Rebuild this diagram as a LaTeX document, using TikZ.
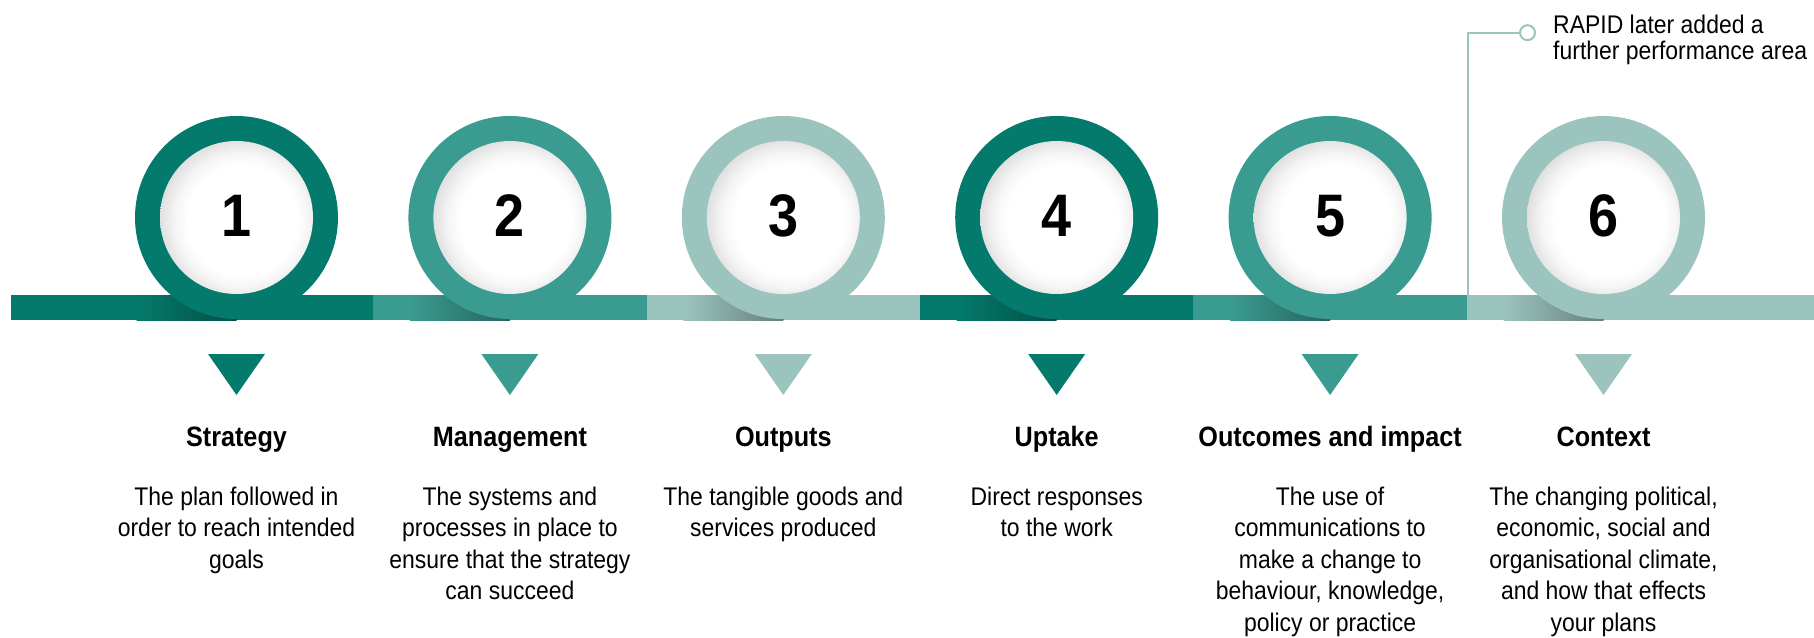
\documentclass[tikz,border=0pt]{standalone}
\usepackage{fontspec}
\setmainfont{Liberation Sans}[FakeStretch=0.9]

\definecolor{tealdark}{HTML}{047A6C}
\definecolor{tealmid}{HTML}{3A9B91}
\definecolor{teallight}{HTML}{9CC4BF}

% soft inner shadow for the white discs, heavier on the left
% (the disc rim lies 25bp from the shading centre)
\pgfdeclareradialshading{discglow}{\pgfpoint{3bp}{-1.5bp}}{%
  color(0bp)=(white); color(18bp)=(white); color(22bp)=(black!4);
  color(28bp)=(black!15); color(50bp)=(black!15)}

\newcommand\digitfont{\fontsize{60}{60}\selectfont\bfseries}
\newcommand\titlefont{\fontsize{28}{32}\selectfont\bfseries}
\newcommand\bodyfont{\fontsize{25.5}{31.5}\selectfont}
\newcommand\notefont{\fontsize{25.5}{26}\selectfont}

\tikzset{
  ringdisc/.style={circle, inner sep=0pt, minimum size=203pt},
  whitedisc/.style={circle, inner sep=0pt, minimum size=153pt, shading=discglow, font=\digitfont},
  areatitle/.style={anchor=base, inner sep=0pt, font=\titlefont},
  areabody/.style={anchor=north, inner sep=0pt, align=center, font=\bodyfont},
}

\begin{document}
\begin{tikzpicture}[x=1pt, y=-1pt]
\useasboundingbox (0,0) rectangle (1814,637);

% timeline bar, one segment per area
\fill[tealdark]  (11,295)    rectangle (373.2,320);
\fill[tealmid]   (373.2,295) rectangle (646.6,320);
\fill[teallight] (646.6,295) rectangle (920,320);
\fill[tealdark]  (920,295)   rectangle (1193.4,320);
\fill[tealmid]   (1193.4,295) rectangle (1466.8,320);
\fill[teallight] (1466.8,295) rectangle (1814,320);

% pointer to the sixth area
\coordinate (tagfoot) at (1467.7,295);
\node[circle, draw=teallight, line width=2pt, fill=white, minimum size=15pt, inner sep=0pt] (tagdot) at (1527.5,32.7) {};
\draw[teallight, line width=2pt] (tagfoot) |- (tagdot);
\node[anchor=base west, align=left, inner sep=0pt, font=\notefont] (tagtext) at (1553,59)
  {RAPID later added a\\further performance area};

% rings, markers and descriptions
\foreach \i/\col/\ttl/\body in {
  1/tealdark/Strategy/{The plan followed in\\order to reach intended\\goals},
  2/tealmid/Management/{The systems and\\processes in place to\\ensure that the strategy\\can succeed},
  3/teallight/Outputs/{The tangible goods and\\services produced},
  4/tealdark/Uptake/{Direct responses\\to the work},
  5/tealmid/Outcomes and impact/{The use of\\communications to\\make a change to\\behaviour, knowledge,\\policy or practice},
  6/teallight/Context/{The changing political,\\economic, social and\\organisational climate,\\and how that effects\\your plans}} {
  \pgfmathsetmacro\cx{236.5+(\i-1)*273.4}
  % shadow cast on the bar by the ring
  \shade[left color=\col, right color=\col!65!black] (\cx-100,295) rectangle (\cx,320);
  \node[ringdisc, fill=\col] (ring\i) at (\cx,217.5) {};
  \node[whitedisc] (disc\i) at (\cx,217.5) {\raisebox{3pt}{\i}};
  \fill[\col] (\cx-28.5,354) -- (\cx+28.5,354) -- (\cx,395) -- cycle;
  \node[areatitle] (title\i) at (\cx,446) {\ttl};
  % first line's strut top sits 0.7 baselineskip above its baseline (505)
  \node[areabody] (body\i) at (\cx,482.95) {\strut\body};
}
\end{tikzpicture}
\end{document}
